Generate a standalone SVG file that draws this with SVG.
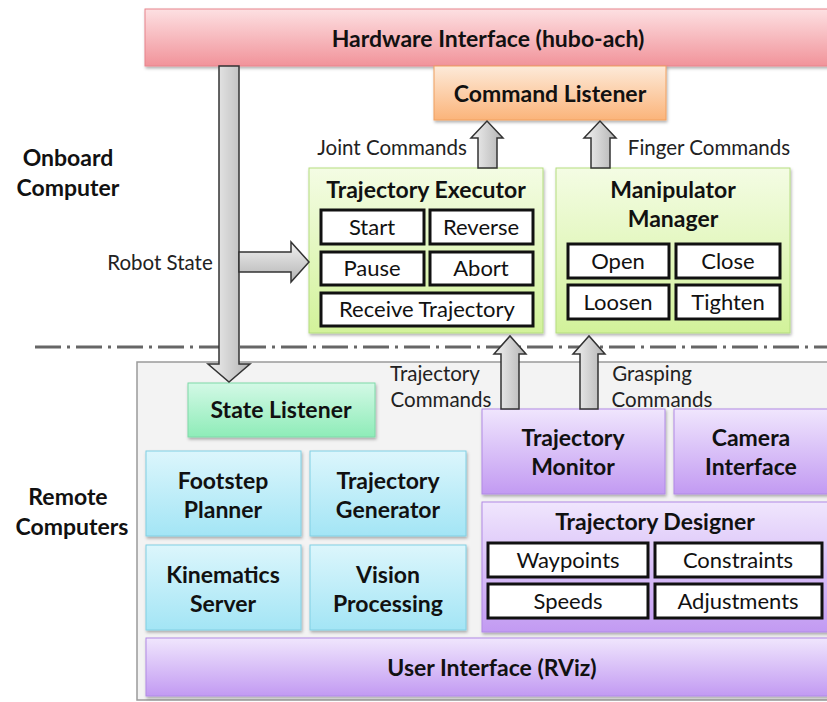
<svg xmlns="http://www.w3.org/2000/svg" width="827" height="702" viewBox="0 0 827 702">
<defs>
<linearGradient id="gPink" x1="0" y1="0" x2="0" y2="1"><stop offset="0" stop-color="#fde0e2"/><stop offset="1" stop-color="#f1939a"/></linearGradient>
<linearGradient id="gOrange" x1="0" y1="0" x2="0" y2="1"><stop offset="0" stop-color="#fdead9"/><stop offset="1" stop-color="#fbb47a"/></linearGradient>
<linearGradient id="gGreen" x1="0" y1="0" x2="0" y2="1"><stop offset="0" stop-color="#f4fce4"/><stop offset="1" stop-color="#d2f29a"/></linearGradient>
<linearGradient id="gMint" x1="0" y1="0" x2="0" y2="1"><stop offset="0" stop-color="#d3f9e6"/><stop offset="1" stop-color="#8eecb8"/></linearGradient>
<linearGradient id="gCyan" x1="0" y1="0" x2="0" y2="1"><stop offset="0" stop-color="#dcf6fc"/><stop offset="1" stop-color="#a3e5f5"/></linearGradient>
<linearGradient id="gPurple" x1="0" y1="0" x2="0" y2="1"><stop offset="0" stop-color="#f0e6fd"/><stop offset="1" stop-color="#c29af2"/></linearGradient>
<linearGradient id="gArrowV" x1="0" y1="0" x2="1" y2="0"><stop offset="0" stop-color="#f2f2f2"/><stop offset="1" stop-color="#b3b3b3"/></linearGradient>
<linearGradient id="gArrowH" x1="0" y1="0" x2="0" y2="1"><stop offset="0" stop-color="#f2f2f2"/><stop offset="1" stop-color="#b3b3b3"/></linearGradient>
<filter id="sh" x="-5%" y="-5%" width="110%" height="120%"><feDropShadow dx="1" dy="2" stdDeviation="1.5" flood-color="#000" flood-opacity="0.3"/></filter>
</defs>
<style>
text{font-family:Lato,"Liberation Sans",sans-serif;fill:#111;text-anchor:middle}
.t{font-weight:bold;font-size:23px}
.lbl{font-size:20.5px;fill:#222}
.side{font-weight:bold;font-size:23px}
.sub{font-size:22px}
.box{filter:url(#sh)}
.pink{fill:url(#gPink);stroke:#e8848c;stroke-width:1}
.orange{fill:url(#gOrange);stroke:#f0a060;stroke-width:1}
.green{fill:url(#gGreen);stroke:#b5dd80;stroke-width:1}
.mint{fill:url(#gMint);stroke:#7fd9a8;stroke-width:1}
.cyan{fill:url(#gCyan);stroke:#80cfe3;stroke-width:1}
.purple{fill:url(#gPurple);stroke:#b18ae6;stroke-width:1}
.white{fill:#fff;stroke:#111;stroke-width:3}
.arrV{fill:url(#gArrowV);stroke:#333;stroke-width:1.5}
.arrH{fill:url(#gArrowH);stroke:#333;stroke-width:1.5}
</style>

<rect id="remote-area" x="137" y="362" width="700" height="338" fill="#f3f3f3" stroke="#9a9a9a" stroke-width="1.5"/>
<line x1="35" y1="347" x2="827" y2="347" stroke="#666" stroke-width="3" stroke-dasharray="26 6 3 6"/>

<g id="hardware-interface"><rect class="box pink" x="145" y="9" width="690" height="57"/><text class="t" x="488" y="47">Hardware Interface (hubo-ach)</text></g>
<g id="command-listener"><rect class="box orange" x="434" y="66" width="232" height="54"/><text class="t" x="550" y="102">Command Listener</text></g>

<text class="side" x="68" y="166">Onboard</text>
<text class="side" x="68" y="196">Computer</text>
<text class="side" x="68" y="505">Remote</text>
<text class="side" x="72" y="535">Computers</text>

<g id="trajectory-executor">
<rect class="box green" x="309" y="168" width="234" height="165"/>
<text class="t" x="426" y="198">Trajectory Executor</text>
<rect class="white" x="321" y="210" width="103" height="34"/><text class="sub" x="372" y="235">Start</text>
<rect class="white" x="430" y="210" width="103" height="34"/><text class="sub" x="481" y="235">Reverse</text>
<rect class="white" x="321" y="252" width="103" height="33"/><text class="sub" x="372" y="276">Pause</text>
<rect class="white" x="430" y="252" width="103" height="33"/><text class="sub" x="481" y="276">Abort</text>
<rect class="white" x="321" y="293" width="212" height="33"/><text class="sub" x="427" y="317">Receive Trajectory</text>
</g>

<g id="manipulator-manager">
<rect class="box green" x="556" y="168" width="234" height="165"/>
<text class="t" x="673" y="198">Manipulator</text>
<text class="t" x="673" y="227">Manager</text>
<rect class="white" x="568" y="244" width="101" height="34"/><text class="sub" x="618" y="269">Open</text>
<rect class="white" x="676" y="244" width="104" height="34"/><text class="sub" x="728" y="269">Close</text>
<rect class="white" x="568" y="285" width="101" height="34"/><text class="sub" x="618" y="310">Loosen</text>
<rect class="white" x="676" y="285" width="104" height="34"/><text class="sub" x="728" y="310">Tighten</text>
</g>

<g id="state-listener"><rect class="box mint" x="188" y="383" width="187" height="54"/><text class="t" x="281" y="418">State Listener</text></g>

<g id="trajectory-monitor"><rect class="box purple" x="482" y="409" width="183" height="85"/><text class="t" x="573" y="446">Trajectory</text><text class="t" x="573" y="475">Monitor</text></g>
<g id="camera-interface"><rect class="box purple" x="674" y="409" width="160" height="85"/><text class="t" x="751" y="446">Camera</text><text class="t" x="751" y="475">Interface</text></g>

<g id="trajectory-designer">
<rect class="box purple" x="482" y="502" width="352" height="130"/>
<text class="t" x="655" y="530">Trajectory Designer</text>
<rect class="white" x="488" y="543" width="160" height="34"/><text class="sub" x="568" y="568">Waypoints</text>
<rect class="white" x="655" y="543" width="167" height="34"/><text class="sub" x="738" y="568">Constraints</text>
<rect class="white" x="488" y="584" width="160" height="34"/><text class="sub" x="568" y="609">Speeds</text>
<rect class="white" x="655" y="584" width="167" height="34"/><text class="sub" x="738" y="609">Adjustments</text>
</g>

<g id="footstep-planner"><rect class="box cyan" x="146" y="451" width="155" height="85"/><text class="t" x="223" y="489">Footstep</text><text class="t" x="223" y="518">Planner</text></g>
<g id="trajectory-generator"><rect class="box cyan" x="310" y="451" width="156" height="85"/><text class="t" x="388" y="489">Trajectory</text><text class="t" x="388" y="518">Generator</text></g>
<g id="kinematics-server"><rect class="box cyan" x="146" y="545" width="155" height="85"/><text class="t" x="223" y="583">Kinematics</text><text class="t" x="223" y="612">Server</text></g>
<g id="vision-processing"><rect class="box cyan" x="310" y="545" width="156" height="85"/><text class="t" x="388" y="583">Vision</text><text class="t" x="388" y="612">Processing</text></g>

<g id="user-interface"><rect class="box purple" x="146" y="638" width="690" height="58"/><text class="t" x="492" y="676">User Interface (RViz)</text></g>

<g id="connectors">
<polygon class="arrV" points="219,66 239,66 239,364 250,364 229,382 208,364 219,364"/>
<polygon class="arrH" points="239,252 291,252 291,242 309,262 291,282 291,272 239,272"/>
<polygon class="arrV" points="478,168 478,138 471,138 487,121 503,138 497,138 497,168"/>
<polygon class="arrV" points="591,168 591,138 584,138 600,121 616,138 610,138 610,168"/>
<polygon class="arrV" points="501,409 501,354 494,354 510,336 526,354 519,354 519,409"/>
<polygon class="arrV" points="580,409 580,354 573,354 589,336 605,354 598,354 598,409"/>
<text class="lbl" x="160" y="270">Robot State</text>
<text class="lbl" x="392" y="155">Joint Commands</text>
<text class="lbl" x="709" y="155">Finger Commands</text>
<text class="lbl" x="435" y="381">Trajectory</text>
<text class="lbl" x="441" y="407">Commands</text>
<text class="lbl" x="652" y="381">Grasping</text>
<text class="lbl" x="662" y="407">Commands</text>
</g>
</svg>
